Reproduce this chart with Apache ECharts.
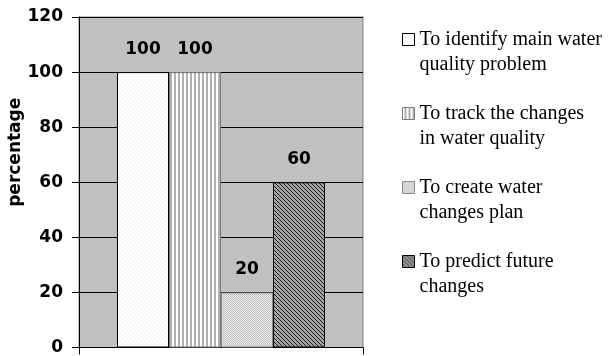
<!DOCTYPE html>
<html>
<head>
<meta charset="utf-8">
<script src="https://cdn.jsdelivr.net/npm/echarts@6/dist/echarts.min.js"></script>
<style>
  html, body { margin: 0; padding: 0; background: #ffffff; }
  #chart { width: 608px; height: 356px; }
</style>
</head>
<body>
<div id="chart"></div>
<script>
// Purposes of water quality monitoring, share of respondents (%)
const categories = [''];
const seriesNames = [
  'To identify main water\nquality problem',
  'To track the changes\nin water quality',
  'To create water\nchanges plan',
  'To predict future\nchanges'
];
const identifyValues = [100];
const trackValues = [100];
const planValues = [20];
const predictValues = [60];
const yTicks = { min: 0, max: 120, step: 20 };

// Small tiled fills for the hatched bars
function tile(w, h, paint) {
  const c = document.createElement('canvas');
  c.width = w; c.height = h;
  const ctx = c.getContext('2d');
  paint(ctx, w, h);
  return { image: c, repeat: 'repeat' };
}
const dotted = tile(4, 4, (ctx) => {
  ctx.fillStyle = '#ffffff'; ctx.fillRect(0, 0, 4, 4);
  ctx.fillStyle = '#e4e4e4'; ctx.fillRect(0, 0, 1, 1); ctx.fillRect(2, 2, 1, 1);
});
const vertical = tile(4, 1, (ctx) => {
  ctx.fillStyle = '#ffffff'; ctx.fillRect(0, 0, 4, 1);
  ctx.fillStyle = '#b0b0b0'; ctx.fillRect(2, 0, 2, 1);
});
const checker = tile(2, 2, (ctx) => {
  ctx.fillStyle = '#eeeeee'; ctx.fillRect(0, 0, 2, 2);
  ctx.fillStyle = '#bcbcbc'; ctx.fillRect(0, 0, 1, 1); ctx.fillRect(1, 1, 1, 1);
});
const diagonal = tile(4, 4, (ctx) => {
  ctx.fillStyle = '#a4a4a4'; ctx.fillRect(0, 0, 4, 4);
  ctx.fillStyle = '#1a1a1a';
  for (let i = 0; i < 4; i++) ctx.fillRect(i, i, 1, 1);
});

const boldFont = 'DejaVu Sans';
const labelStyle = {
  show: true, position: 'top', distance: 14,
  fontFamily: boldFont, fontWeight: 'bold', fontSize: 17, color: '#000000'
};

function barSeries(name, values, fill, border) {
  return {
    name: name,
    type: 'bar',
    data: values,
    barWidth: 52,
    barGap: '0%',
    itemStyle: { color: fill, borderColor: border, borderWidth: 1 },
    label: labelStyle
  };
}

const chart = echarts.init(document.getElementById('chart'), null, { renderer: 'canvas' });
chart.setOption({
  animation: false,
  backgroundColor: '#ffffff',
  grid: {
    left: 79, right: 245, top: 17, bottom: 7,
    show: true, backgroundColor: '#c0c0c0', borderColor: '#808080', borderWidth: 1
  },
  legend: {
    orient: 'vertical',
    left: 402, top: 2,
    padding: 0,
    itemGap: -1,
    itemWidth: 12, itemHeight: 12,
    icon: 'rect',
    itemStyle: { borderWidth: 1 },
    // a blank leading line keeps each marker level with the first line of its label
    formatter: (name) => '\n' + name,
    textStyle: {
      fontFamily: 'Liberation Serif', fontSize: 20, color: '#000000',
      lineHeight: 25
    },
    data: seriesNames
  },
  xAxis: {
    type: 'category',
    data: categories,
    axisLine: { lineStyle: { color: '#000000', width: 1 } },
    axisTick: { show: true, length: 7, lineStyle: { color: '#000000' } },
    axisLabel: { show: false }
  },
  yAxis: {
    type: 'value',
    min: yTicks.min, max: yTicks.max, interval: yTicks.step,
    name: 'percentage',
    nameLocation: 'middle',
    nameGap: 54,
    nameRotate: 90,
    nameTextStyle: {
      fontFamily: boldFont, fontWeight: 'bold', fontSize: 17, color: '#000000',
      padding: [0, 0, 0, 60]
    },
    axisLine: { show: true, lineStyle: { color: '#000000', width: 1 } },
    axisTick: { show: true, length: 7, lineStyle: { color: '#000000' } },
    axisLabel: {
      margin: 16, fontFamily: boldFont, fontWeight: 'bold', fontSize: 17, color: '#000000'
    },
    splitLine: { show: true, lineStyle: { color: '#000000', width: 1 } }
  },
  series: [
    barSeries(seriesNames[0], identifyValues, dotted, '#000000'),
    barSeries(seriesNames[1], trackValues, vertical, '#7a7a7a'),
    barSeries(seriesNames[2], planValues, checker, '#8a8a8a'),
    barSeries(seriesNames[3], predictValues, diagonal, '#000000')
  ]
});
</script>
</body>
</html>
